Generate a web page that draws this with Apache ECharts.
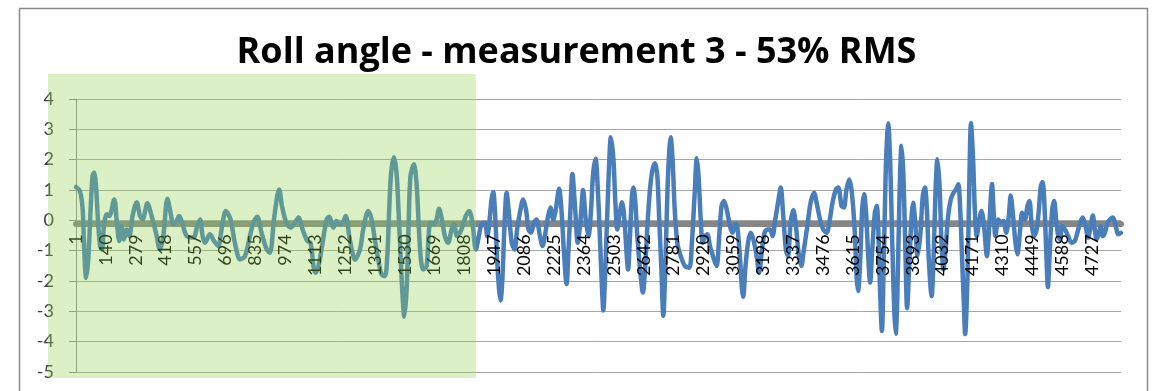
<!DOCTYPE html>
<html>
<head>
<meta charset="utf-8">
<script src="https://cdn.jsdelivr.net/npm/echarts@6/dist/echarts.min.js"></script>
<style>
  html, body { margin: 0; padding: 0; background: #ffffff; }
  #chart { width: 1153px; height: 391px; }
</style>
</head>
<body>
<div id="chart"></div>
<script>
// Roll angle trace, measurement 3
const TITLE = 'Roll angle - measurement 3 - 53% RMS';
const SAMPLE_COUNT = 4862;      // number of recorded samples
const LABEL_STEP = 139;         // one category label every 139 samples
const Y_MIN = -5;
const Y_MAX = 4;
const Y_STEP = 1;
const SHADED_END = 1861;        // last sample of the shaded (settling) window

// sample number of each vertex of the trace
const sampleNo = [
  1, 19, 32, 38, 48, 58, 69, 78, 85, 94, 103, 113, 122, 131, 144, 156, 179, 190, 202, 213,
  224, 237, 249, 264, 283, 299, 311, 333, 353, 373, 391, 407, 426, 438, 454, 469, 481, 497, 516, 547,
  565, 578, 590, 601, 624, 643, 663, 678, 698, 720, 740, 764, 787, 810, 826, 844, 864, 888, 903, 922,
  937, 946, 959, 977, 999, 1015, 1036, 1055, 1077, 1092, 1108, 1117, 1132, 1148, 1167, 1179, 1198, 1213, 1229, 1241,
  1256, 1272, 1287, 1298, 1322, 1337, 1360, 1376, 1391, 1407, 1422, 1438, 1449, 1458, 1467, 1480, 1492, 1501, 1511, 1520,
  1528, 1539, 1548, 1557, 1573, 1585, 1594, 1604, 1616, 1632, 1641, 1650, 1666, 1678, 1690, 1703, 1717, 1732, 1748, 1759,
  1774, 1794, 1814, 1830, 1845, 1861, 1872, 1887, 1903, 1914, 1923, 1934, 1942, 1951, 1960, 1969, 1976, 1985, 1994, 2004,
  2016, 2028, 2041, 2053, 2066, 2081, 2094, 2106, 2118, 2131, 2143, 2159, 2171, 2187, 2197, 2208, 2221, 2233, 2248, 2259,
  2270, 2283, 2292, 2301, 2310, 2323, 2335, 2348, 2360, 2372, 2385, 2397, 2406, 2418, 2429, 2439, 2448, 2454, 2463, 2473,
  2482, 2489, 2501, 2510, 2519, 2528, 2541, 2553, 2563, 2569, 2578, 2587, 2594, 2603, 2612, 2625, 2638, 2648, 2659, 2671,
  2683, 2694, 2705, 2714, 2724, 2733, 2742, 2752, 2761, 2767, 2776, 2786, 2798, 2814, 2834, 2854, 2866, 2879, 2889, 2897,
  2907, 2916, 2927, 2938, 2950, 2969, 2981, 2993, 3004, 3015, 3028, 3043, 3055, 3068, 3077, 3090, 3099, 3105, 3114, 3127,
  3139, 3152, 3167, 3179, 3192, 3204, 3217, 3229, 3241, 3254, 3269, 3279, 3291, 3303, 3313, 3325, 3338, 3350, 3362, 3375,
  3387, 3403, 3418, 3434, 3446, 3462, 3477, 3493, 3505, 3520, 3536, 3547, 3562, 3573, 3585, 3598, 3610, 3623, 3632, 3639,
  3649, 3658, 3667, 3677, 3686, 3695, 3705, 3717, 3726, 3733, 3739, 3750, 3757, 3767, 3774, 3779, 3788, 3798, 3807, 3814,
  3822, 3832, 3841, 3850, 3860, 3867, 3878, 3888, 3895, 3906, 3915, 3928, 3940, 3950, 3959, 3968, 3981, 3990, 3999, 4008,
  4018, 4027, 4036, 4046, 4058, 4070, 4083, 4095, 4105, 4114, 4123, 4132, 4137, 4148, 4157, 4164, 4174, 4182, 4191, 4201,
  4213, 4225, 4238, 4250, 4262, 4269, 4278, 4291, 4303, 4315, 4328, 4340, 4349, 4360, 4371, 4380, 4393, 4402, 4415, 4427,
  4436, 4446, 4458, 4470, 4480, 4489, 4497, 4504, 4514, 4522, 4531, 4542, 4551, 4560, 4570, 4579, 4588, 4601, 4616, 4632,
  4647, 4659, 4672, 4684, 4697, 4709, 4721, 4731, 4740, 4749, 4759, 4768, 4777, 4787, 4799, 4811, 4824, 4836, 4849, 4861
];

// roll angle in degrees at each of those samples
const rollDeg = [
  1.10, 0.97, 0.36, -0.74, -1.90, -1.29, 0.36, 1.46, 1.58, 1.13, 0.03, -0.85, -0.96, -0.19, 0.20, 0.14, 0.69, 0.03, -0.68, -0.19,
  -0.63, -0.30, -0.52, 0.14, 0.60, 0.14, 0.03, 0.56, 0.14, -0.41, -0.96, -0.52, 0.71, 0.36, -0.13, -0.02, 0.14, -0.13, -0.52, -0.57,
  -0.19, 0.03, -0.52, -0.74, -0.46, -0.68, -0.85, -0.30, 0.31, 0.03, -0.74, -1.29, -1.18, -0.52, -0.08, 0.12, -0.41, -0.96, -1.07, 0.03,
  0.80, 1.02, 0.47, -0.02, -0.24, -0.13, 0.09, -0.30, -0.68, -0.74, -1.62, -1.73, -1.40, -0.74, 0.03, 0.12, -0.24, -0.02, -0.13, -0.08,
  0.14, -0.52, -1.07, -1.30, -0.96, -0.30, 0.31, 0.03, -0.63, -1.29, -1.78, -1.84, -1.18, 0.36, 1.57, 2.08, 1.57, 0.36, -1.18, -2.49,
  -3.18, -2.27, -0.19, 1.46, 1.85, 1.24, 0.03, -1.18, -1.62, -1.51, -0.52, -0.08, -0.13, 0.03, 0.38, 0.03, -0.52, -0.74, -0.30, -0.13,
  -0.52, -0.30, 0.14, 0.31, -0.08, -0.96, -0.63, -0.13, -0.08, -0.52, -0.13, 0.69, 0.93, 0.14, -1.29, -2.27, -2.64, -1.84, -0.19, 0.91,
  0.14, -0.74, -0.96, -0.30, 0.25, 0.69, 0.36, -0.30, -0.41, -0.08, 0.03, -0.52, -0.85, -0.30, 0.14, 0.42, 0.03, 0.36, 1.04, 0.36,
  -0.96, -2.10, -0.96, 0.36, 1.53, 0.36, -0.74, 0.03, 1.00, 0.03, -0.52, 0.36, 1.50, 2.03, 0.91, -0.74, -2.27, -2.97, -1.62, 0.36,
  2.01, 2.74, 2.01, 0.58, -0.30, 0.14, 0.60, -0.08, -1.18, -1.62, -0.52, 0.80, 1.08, 0.58, -0.52, -1.62, -2.38, -1.62, -0.19, 1.02,
  1.68, 1.88, 1.46, 0.03, -1.62, -3.15, -1.62, 0.91, 2.34, 2.74, 2.01, 0.36, -0.74, -1.18, -1.51, -1.56, -0.74, 0.91, 2.05, 1.46,
  0.03, -0.74, -0.52, -0.46, -0.85, -1.29, -1.51, -0.52, 0.47, 0.64, 0.36, -0.19, -0.41, -0.13, -0.19, -1.29, -2.27, -2.52, -1.62, -0.74,
  -0.41, -0.63, -1.18, -1.73, -0.96, -0.41, -0.30, -0.30, -0.52, 0.03, 0.69, 1.08, 0.14, -0.96, -1.18, -0.08, 0.34, -0.19, -1.07, -1.51,
  -0.96, -0.19, 0.58, 0.91, 0.58, 0.03, -0.30, -0.41, -0.08, 0.58, 1.02, 1.08, 0.47, 0.42, 1.02, 1.35, 0.91, -0.30, -1.84, -2.33,
  -1.29, 0.36, 0.86, 0.14, -1.18, -2.05, -0.96, 0.25, 0.47, -0.30, -1.84, -3.65, -1.84, 1.46, 2.78, 3.20, 2.01, -0.74, -2.93, -3.74,
  -2.38, 0.91, 2.46, 1.46, -1.29, -2.90, -1.29, 0.14, 0.58, -0.19, -1.18, -0.52, 0.80, 1.08, 0.36, -1.29, -2.50, -1.29, 0.91, 2.01,
  1.13, -0.74, -1.62, -0.96, 0.14, 0.69, 0.91, 1.02, 1.19, 0.36, -1.29, -2.93, -3.75, -1.84, 1.46, 3.20, 2.01, 0.36, -0.52, -0.08,
  0.31, -0.19, -1.18, -0.08, 1.20, 0.36, -0.52, 0.03, -0.08, -0.02, -0.41, 0.14, 0.82, 0.14, -0.74, -1.12, -0.30, 0.25, 0.03, 0.47,
  0.64, -0.08, -0.52, -0.30, 0.36, 1.13, 1.26, 0.80, -0.96, -2.20, -0.96, 0.36, 0.64, 0.03, -0.52, -0.63, -0.19, -0.30, -0.52, -0.74,
  -0.68, -0.41, -0.08, 0.09, -0.19, -0.57, -0.19, 0.16, -0.30, -0.63, -0.41, -0.19, -0.52, -0.41, -0.08, 0.03, 0.09, -0.13, -0.46, -0.41
];

// category axis: one category per sample, labelled by its sample number
const categories = Array.from({ length: SAMPLE_COUNT }, (_, k) => String(k + 1));
const seriesData = sampleNo.map((s, k) => [s - 1, rollDeg[k]]);

const chart = echarts.init(document.getElementById('chart'), null, { renderer: 'canvas' });

const LABEL_FONT = 'Lato, "Liberation Sans", sans-serif';
const GRID = { left: 76, right: 32, top: 99, bottom: 19 };

// two copies of the category axis: the thick base line sits under the trace,
// the sample-number labels are drawn over it
const baseAxis = {
  type: 'category',
  data: categories,
  boundaryGap: false,
  position: 'bottom',
  axisTick: { show: false },
  splitLine: { show: false }
};

chart.setOption({
  animation: false,
  backgroundColor: '#ffffff',
  title: {
    text: TITLE,
    left: 'center',
    top: 30,
    textStyle: {
      fontFamily: '"Open Sans", Lato, sans-serif',
      fontWeight: 'bold',
      fontSize: 36,
      color: '#000000'
    }
  },
  grid: Object.assign({ containLabel: false, outerBoundsMode: 'none' }, GRID),
  xAxis: [
    Object.assign({}, baseAxis, {
      z: 0,
      axisLine: { onZero: false, lineStyle: { color: '#868686', width: 6 } },
      axisLabel: { show: false }
    }),
    Object.assign({}, baseAxis, {
      z: 10,
      axisLine: { show: false, onZero: false },
      axisLabel: {
        interval: LABEL_STEP - 1,
        rotate: 90,
        margin: 11,
        fontFamily: LABEL_FONT,
        fontSize: 18,
        color: '#000000'
      }
    })
  ],
  yAxis: {
    type: 'value',
    min: Y_MIN,
    max: Y_MAX,
    interval: Y_STEP,
    axisLine: { show: true, lineStyle: { color: '#8c8c8c', width: 1 } },
    axisTick: { show: true, length: 7, lineStyle: { color: '#8c8c8c' } },
    axisLabel: {
      margin: 22,
      fontFamily: LABEL_FONT,
      fontSize: 18,
      color: '#404040'
    },
    splitLine: { show: true, lineStyle: { color: '#a6a6a6', width: 1 } }
  },
  series: [{
    type: 'line',
    xAxisIndex: 0,
    data: seriesData,
    showSymbol: false,
    smooth: 0.3,
    lineStyle: { color: '#4a7ebb', width: 4.5, cap: 'round', join: 'round' },
    z: 3
  }]
});

// move both category axes up to the zero level of the value axis;
// the thick line sits just below the 0 gridline
const zeroPx = chart.convertToPixel({ yAxisIndex: 0 }, 0);
const gridBottomPx = chart.convertToPixel({ yAxisIndex: 0 }, Y_MIN);
const axisOffset = (zeroPx + 3) - gridBottomPx;
chart.setOption({ xAxis: [{ offset: axisOffset }, { offset: axisOffset }] });

// shaded window over the first part of the trace, plus the outer chart frame
const [leftPx, topPx] = chart.convertToPixel({ gridIndex: 0 }, [0, Y_MAX]);
const [rightPx, bottomPx] = chart.convertToPixel({ gridIndex: 0 }, [SHADED_END - 1, Y_MIN]);
const shadeX = leftPx - 28;
const shadeY = topPx - 25;

chart.setOption({
  graphic: [
    {
      type: 'rect',
      z: 100,
      silent: true,
      shape: { x: shadeX, y: shadeY, width: rightPx - shadeX, height: bottomPx + 6 - shadeY },
      style: { fill: 'rgba(146, 208, 80, 0.33)' }
    },
    {
      type: 'rect',
      z: 101,
      silent: true,
      shape: { x: 19.5, y: 8.5, width: 1128, height: 420 },
      style: { fill: null, stroke: '#8a8a8a', lineWidth: 1.5 }
    }
  ]
});
</script>
</body>
</html>
